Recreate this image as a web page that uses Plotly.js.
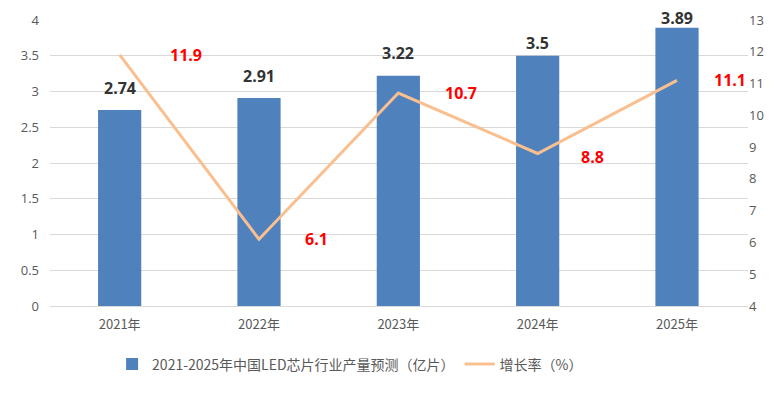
<!DOCTYPE html>
<html><head><meta charset="utf-8">
<script src="https://cdn.plot.ly/plotly-3.0.1.min.js"></script>
<style>body{margin:0;background:#fff}#c{width:778px;height:394px}</style>
</head><body><div id="c"></div>
<script>
const categories = ["2021年","2022年","2023年","2024年","2025年"];
const output = [2.74, 2.91, 3.22, 3.5, 3.89];
const growth = [11.9, 6.1, 10.7, 8.8, 11.1];
const outputName = "2021-2025年中国LED芯片行业产量预测（亿片）";
const growthName = "增长率（%）";

const font = "Noto Sans CJK SC, Open Sans, sans-serif";
const barLabelShift = [22, 22, 23, 13, 10];
const rateLabelXShift = [66, 57, 63, 55, 53];
const rateLabelYShift = [0, 0, 0, -4, 0];
const traces = [
  {type:"bar", x:categories, y:output, name:outputName, marker:{color:"#4F81BD"}, width:0.31, yaxis:"y"},
  {type:"scatter", mode:"lines", x:categories, y:growth, name:growthName, line:{color:"#F9BF8F", width:3}, yaxis:"y2"}
];
const annotations = [];
categories.forEach((c,i)=>{
  annotations.push({x:c, y:output[i], xref:"x", yref:"y", text:"<b>"+output[i]+"</b>", showarrow:false, yshift:barLabelShift[i], font:{family:"Open Sans, sans-serif", size:16, color:"#333333"}});
  annotations.push({x:c, y:growth[i], xref:"x", yref:"y2", text:"<b>"+growth[i]+"</b>", showarrow:false, xshift:rateLabelXShift[i], yshift:rateLabelYShift[i], font:{family:"Open Sans, sans-serif", size:16, color:"#FF0000"}});
});
const layout = {
  width:778, height:394,
  margin:{l:50, r:30, t:20, b:88, autoexpand:false},
  paper_bgcolor:"#fff", plot_bgcolor:"#fff",
  font:{family:font, size:13, color:"#595959"},
  xaxis:{type:"category", showgrid:false, showline:true, linecolor:"#D9D9D9", ticks:"", tickfont:{size:13, color:"#595959"}, ticklabelstandoff:6},
  yaxis:{range:[0,4], dtick:0.5, showgrid:true, gridcolor:"#D9D9D9", zeroline:false, ticks:"", tickfont:{family:"Open Sans, sans-serif", size:13, color:"#595959"}, ticklabelstandoff:10},
  yaxis2:{overlaying:"y", side:"right", range:[4,13], dtick:1, showgrid:false, zeroline:false, ticks:"", tickfont:{family:"Open Sans, sans-serif", size:13, color:"#595959"}, ticklabelstandoff:0},
  legend:{orientation:"h", x:0.45, xanchor:"center", xref:"container", y:0.075, yref:"container", yanchor:"middle", font:{size:14, color:"#595959"}},
  annotations:annotations,
  showlegend:true
};
Plotly.newPlot("c", traces, layout, {displayModeBar:false, staticPlot:true});
</script></body></html>
